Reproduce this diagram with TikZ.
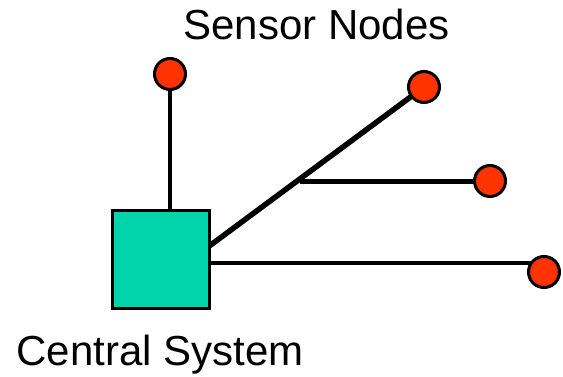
\documentclass[tikz,border=0pt]{standalone}
\usepackage{fontspec}
\setmainfont{Liberation Sans}
\usetikzlibrary{backgrounds}
\definecolor{hubfill}{HTML}{00D4AA}
\definecolor{nodefill}{HTML}{FF3300}
\tikzset{
  hub/.style={draw=black, line width=3pt, fill=hubfill, minimum size=97pt, inner sep=0pt},
  sensor/.style={circle, draw=black, line width=3pt, fill=nodefill, minimum size=31pt, inner sep=0pt},
  link/.style={draw=black, line width=4pt},
  trunk/.style={draw=black, line width=5.5pt},
  caption/.style={font=\fontsize{42}{48}\selectfont, anchor=base, inner sep=0pt}
}
\begin{document}
\begin{tikzpicture}[x=1pt, y=-1pt]
  \useasboundingbox (0,0) rectangle (563,377);
  % central system and the sensor nodes
  \node[hub] (cs) at (160.5,259.5) {};
  \node[sensor] (s1) at (170,74) {};
  \node[sensor] (s2) at (424,87) {};
  \node[sensor] (s3) at (490,181) {};
  \node[sensor] (s4) at (544,272) {};
  % junction points of the wiring
  \coordinate (j1) at (208,247);
  \coordinate (j2) at (300,182);
  \coordinate (j3) at (208,263);
  % wiring, kept behind the shapes
  \begin{pgfonlayer}{background}
    \draw[link] (s1.center) -- (s1.center |- cs.north);
    \draw[trunk] (j1) -- (s2.center);
    \draw[link, line width=5pt] (j2) -- (j2 -| s3.center);
    \draw[link] (j3) -- (j3 -| s4.center);
  \end{pgfonlayer}
  % labels
  \node[caption] (lsensor) at (316.5,40) {Sensor Nodes};
  \node[caption] (lcentral) at (160,365) {Central System};
\end{tikzpicture}
\end{document}
